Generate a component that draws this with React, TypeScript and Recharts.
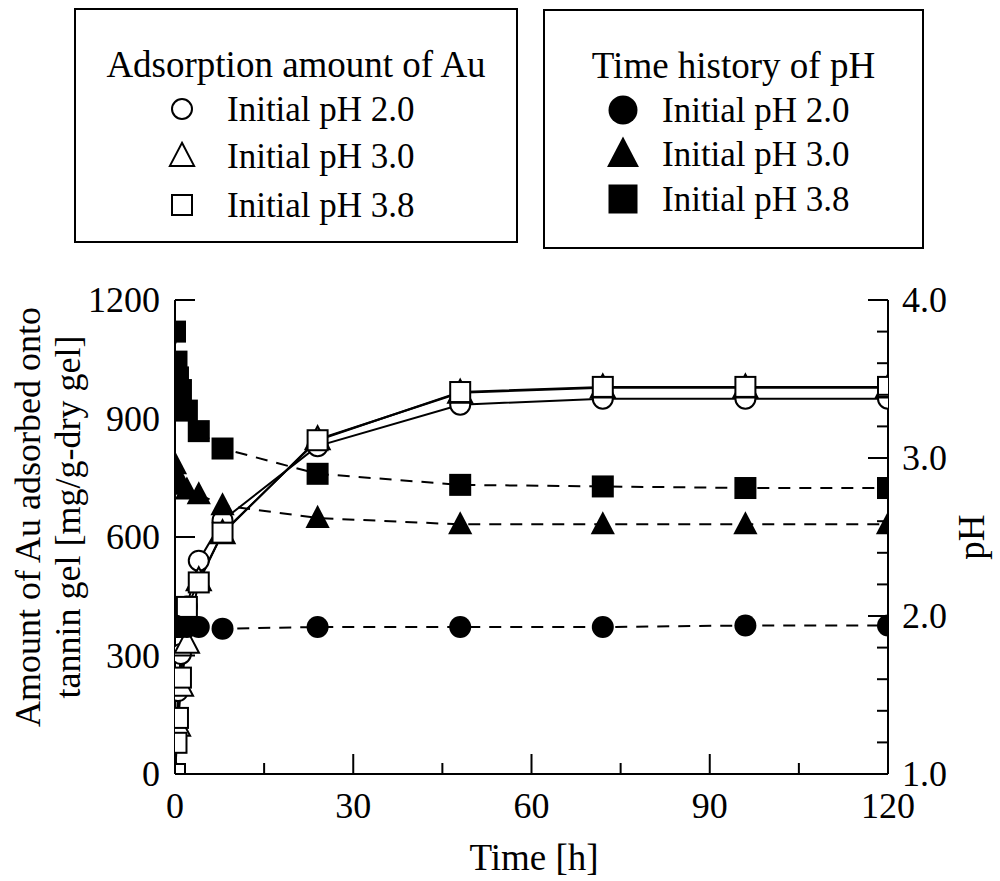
import { LineChart, Line, XAxis, YAxis, Label } from 'recharts'

const FONT = '"Liberation Serif", "Times New Roman", serif'

// Adsorption amount of Au [mg/g-dry gel]
const auTimesPH20 = [0, 0.5, 1, 2, 4, 8, 24, 48, 72, 96, 120]
const auPH20 = [0, 210, 304, 424, 540, 642, 830, 935, 950, 950, 950]
const auTimesPH30 = [0, 0.5, 1, 2, 4, 8, 24, 48, 72, 96, 120]
const auPH30 = [0, 122, 223, 332, 490, 609, 847, 965, 978, 978, 978]
const auTimesPH38 = [0, 0.25, 0.5, 1, 2, 4, 8, 24, 48, 72, 96, 120]
const auPH38 = [0, 79, 142, 244, 423, 485, 611, 845, 967, 980, 980, 980]

// Time history of pH
const phTimes = [0, 0.25, 0.5, 1, 2, 4, 8, 24, 48, 72, 96, 120]
const phPH20 = [1.94, 1.93, 1.93, 1.93, 1.93, 1.93, 1.92, 1.93, 1.93, 1.93, 1.94, 1.94]
const phPH30 = [2.96, 2.9, 2.86, 2.83, 2.8, 2.77, 2.7, 2.62, 2.58, 2.58, 2.58, 2.58]
const phPH38 = [3.8, 3.61, 3.51, 3.43, 3.3, 3.17, 3.06, 2.9, 2.83, 2.82, 2.81, 2.81]

const timeTicks = [0, 15, 30, 45, 60, 75, 90, 105, 120]
const auTicks = [0, 300, 600, 900, 1200]
const phTicks = [1, 1.2, 1.4, 1.6, 1.8, 2, 2.2, 2.4, 2.6, 2.8, 3, 3.2, 3.4, 3.6, 3.8, 4]

const legendAu = ['Initial pH 2.0', 'Initial pH 3.0', 'Initial pH 3.8']
const legendPH = ['Initial pH 2.0', 'Initial pH 3.0', 'Initial pH 3.8']

const rows = (times: number[], values: number[]) => times.map((t, i) => ({ t, v: values[i] }))

type Shape = 'circle' | 'triangle' | 'square'

function Marker({ cx, cy, shape, filled, size = 22 }: { cx: number; cy: number; shape: Shape; filled: boolean; size?: number }) {
    const fill = filled ? '#000' : '#fff'
    const sw = filled ? 0 : 2
    const h = size / 2
    if (shape === 'circle') {
        return <circle cx={cx} cy={cy} r={filled ? h : h - 1} fill={fill} stroke="#000" strokeWidth={sw} />
    }
    if (shape === 'square') {
        const s = filled ? size : size - 2
        return <rect x={cx - s / 2} y={cy - s / 2} width={s} height={s} fill={fill} stroke="#000" strokeWidth={sw} />
    }
    const w = size * 1.1
    const pts = `${cx},${cy - size * 0.6} ${cx + w / 2},${cy + size * 0.45} ${cx - w / 2},${cy + size * 0.45}`
    return <polygon points={pts} fill={fill} stroke="#000" strokeWidth={sw} strokeLinejoin="miter" />
}

const dotFor = (id: string, shape: Shape, filled: boolean) => (p: any) => (
    <Marker key={`${id}-${p.index}`} cx={p.cx} cy={p.cy} shape={shape} filled={filled} />
)

function BottomTick(props: any) {
    const { x, y, payload } = props
    const major = payload.value % 30 === 0
    return (
        <g>
            <line x1={x} y1={y} x2={x} y2={y - (major ? 20 : 11)} stroke="#000" strokeWidth={2} />
            {major && (
                <text x={x} y={y + 44} textAnchor="middle" fontFamily={FONT} fontSize={36} fill="#000">
                    {payload.value}
                </text>
            )}
        </g>
    )
}

function TopTick(props: any) {
    const { x, y, payload } = props
    const major = payload.value % 30 === 0
    return <line x1={x} y1={y} x2={x} y2={y + (major ? 20 : 11)} stroke="#000" strokeWidth={2} />
}

function LeftTick(props: any) {
    const { x, y, payload } = props
    return (
        <g>
            <line x1={x} y1={y} x2={x + 20} y2={y} stroke="#000" strokeWidth={2} />
            <text x={x - 15} y={y + 12} textAnchor="end" fontFamily={FONT} fontSize={36} fill="#000">
                {payload.value}
            </text>
        </g>
    )
}

function RightTick(props: any) {
    const { x, y, payload } = props
    const v = payload.value
    const major = Math.abs(v - Math.round(v)) < 1e-6
    return (
        <g>
            <line x1={x} y1={y} x2={x - (major ? 20 : 11)} y2={y} stroke="#000" strokeWidth={2} />
            {major && (
                <text x={x + 14} y={y + 12} textAnchor="start" fontFamily={FONT} fontSize={36} fill="#000">
                    {v.toFixed(1)}
                </text>
            )}
        </g>
    )
}

function LegendBox({ x, y, w, h, title, titleY, labels, shapes, filled, markerX, labelX, baselines, markerSize }: any) {
    return (
        <g>
            <rect x={x} y={y} width={w} height={h} fill="#fff" stroke="#000" strokeWidth={2} />
            <text x={x + w / 2} y={titleY} textAnchor="middle" fontFamily={FONT} fontSize={37} fill="#000">
                {title}
            </text>
            {labels.map((l: string, i: number) => (
                <g key={l + i}>
                    <Marker cx={markerX} cy={baselines[i] - 12} shape={shapes[i]} filled={filled} size={markerSize} />
                    <text x={labelX} y={baselines[i]} fontFamily={FONT} fontSize={35} fill="#000">
                        {l}
                    </text>
                </g>
            ))}
        </g>
    )
}

const shapes: Shape[] = ['circle', 'triangle', 'square']

export default function App() {
    return (
        <div style={{ position: 'absolute', left: 0, top: 0, width: 1000, height: 881, background: '#fff' }}>
            <LineChart width={1000} height={881} margin={{ top: 300, right: 0, bottom: 0, left: 0 }}>
                <XAxis
                    xAxisId="bottom"
                    type="number"
                    dataKey="t"
                    domain={[0, 120]}
                    ticks={timeTicks}
                    interval={0}
                    orientation="bottom"
                    height={107}
                    tickSize={0}
                    tickMargin={0}
                    tickLine={false}
                    axisLine={{ stroke: '#000', strokeWidth: 2 }}
                    tick={BottomTick}
                    allowDataOverflow
                >
                    <Label
                        content={() => (
                            <text x={534} y={870} textAnchor="middle" fontFamily={FONT} fontSize={37} fill="#000">
                                Time [h]
                            </text>
                        )}
                    />
                </XAxis>
                <XAxis
                    xAxisId="top"
                    type="number"
                    dataKey="t"
                    domain={[0, 120]}
                    ticks={timeTicks}
                    interval={0}
                    orientation="top"
                    height={0}
                    tickSize={0}
                    tickMargin={0}
                    tickLine={false}
                    axisLine={{ stroke: '#000', strokeWidth: 2 }}
                    tick={TopTick}
                    allowDataOverflow
                />
                <YAxis
                    yAxisId="au"
                    orientation="left"
                    width={175}
                    type="number"
                    domain={[0, 1200]}
                    ticks={auTicks}
                    interval={0}
                    tickSize={0}
                    tickMargin={0}
                    tickLine={false}
                    axisLine={{ stroke: '#000', strokeWidth: 2 }}
                    tick={LeftTick}
                    allowDataOverflow
                >
                    <Label
                        content={() => (
                            <g fontFamily={FONT} fontSize={36} fill="#000">
                                <text x={40} y={517} textAnchor="middle" transform="rotate(-90 40 517)">
                                    Amount of Au adsorbed onto
                                </text>
                                <text x={80} y={517} textAnchor="middle" transform="rotate(-90 80 517)">
                                    tannin gel [mg/g-dry gel]
                                </text>
                            </g>
                        )}
                    />
                </YAxis>
                <YAxis
                    yAxisId="ph"
                    orientation="right"
                    width={112}
                    type="number"
                    domain={[1, 4]}
                    ticks={phTicks}
                    interval={0}
                    tickSize={0}
                    tickMargin={0}
                    tickLine={false}
                    axisLine={{ stroke: '#000', strokeWidth: 2 }}
                    tick={RightTick}
                    allowDataOverflow
                >
                    <Label
                        content={() => (
                            <text x={984} y={537} textAnchor="middle" transform="rotate(-90 984 537)" fontFamily={FONT} fontSize={37} fill="#000">
                                pH
                            </text>
                        )}
                    />
                </YAxis>

                <Line data={rows(auTimesPH20, auPH20)} dataKey="v" xAxisId="bottom" yAxisId="au" type="linear" stroke="#000" strokeWidth={2} dot={dotFor('au20', 'circle', false)} activeDot={false} isAnimationActive={false} />
                <Line data={rows(auTimesPH30, auPH30)} dataKey="v" xAxisId="bottom" yAxisId="au" type="linear" stroke="#000" strokeWidth={2} dot={dotFor('au30', 'triangle', false)} activeDot={false} isAnimationActive={false} />
                <Line data={rows(auTimesPH38, auPH38)} dataKey="v" xAxisId="bottom" yAxisId="au" type="linear" stroke="#000" strokeWidth={2} dot={dotFor('au38', 'square', false)} activeDot={false} isAnimationActive={false} />

                <Line data={rows(phTimes, phPH20)} dataKey="v" xAxisId="bottom" yAxisId="ph" type="linear" stroke="#000" strokeWidth={2} strokeDasharray="12 9" dot={dotFor('ph20', 'circle', true)} activeDot={false} isAnimationActive={false} />
                <Line data={rows(phTimes, phPH30)} dataKey="v" xAxisId="bottom" yAxisId="ph" type="linear" stroke="#000" strokeWidth={2} strokeDasharray="12 9" dot={dotFor('ph30', 'triangle', true)} activeDot={false} isAnimationActive={false} />
                <Line data={rows(phTimes, phPH38)} dataKey="v" xAxisId="bottom" yAxisId="ph" type="linear" stroke="#000" strokeWidth={2} strokeDasharray="12 9" dot={dotFor('ph38', 'square', true)} activeDot={false} isAnimationActive={false} />
            </LineChart>

            <svg width={1000} height={260} style={{ position: 'absolute', left: 0, top: 0 }}>
                <LegendBox
                    x={75} y={9} w={442} h={233}
                    title="Adsorption amount of Au" titleY={77}
                    labels={legendAu} shapes={shapes} filled={false}
                    markerX={182} labelX={227} baselines={[121, 168, 217]} markerSize={22}
                />
                <LegendBox
                    x={544} y={10} w={379} h={238}
                    title="Time history of pH" titleY={78}
                    labels={legendPH} shapes={shapes} filled={true}
                    markerX={623} labelX={662} baselines={[122, 166, 211]} markerSize={29}
                />
            </svg>
        </div>
    )
}
